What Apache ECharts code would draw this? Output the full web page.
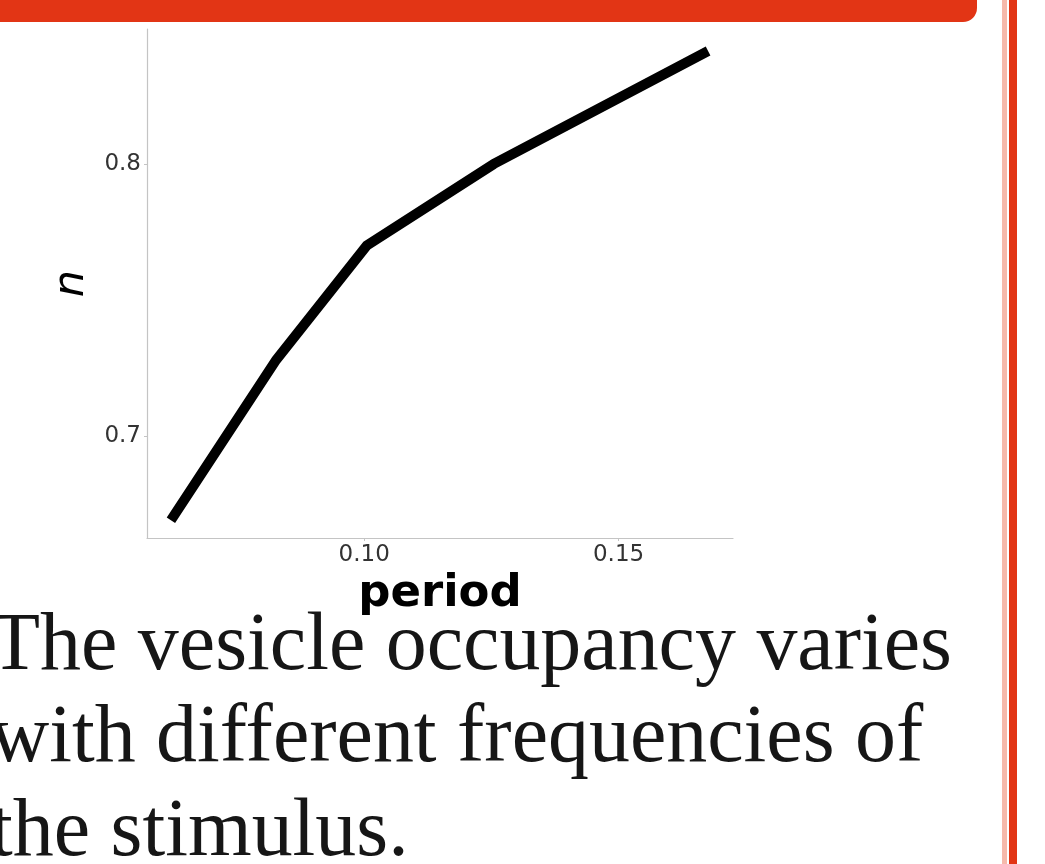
<!DOCTYPE html>
<html>
<head>
<meta charset="utf-8">
<script src="https://cdn.jsdelivr.net/npm/echarts@6/dist/echarts.min.js"></script>
<style>
  html, body { margin: 0; padding: 0; background: #ffffff; }
  #chart { width: 1045px; height: 864px; }
</style>
</head>
<body>
<div id="chart"></div>
<script>
// ---- data ----
const periods = [0.062, 0.0827, 0.1005, 0.1255, 0.1676];
const occupancy = [0.669, 0.728, 0.770, 0.800, 0.8415];
const xTickValues = [0.10, 0.15];
const yTickValues = [0.7, 0.8];
const xAxisTitle = 'period';
const yAxisTitle = 'n';
const captionLines = [
  'The vesicle occupancy varies',
  'with different frequencies of',
  'the stimulus.'
];

// ---- layout helpers ----
const captionFontSize = 82;
const captionFamily = '"Liberation Serif"';
const captionLeft = -10;
const captionRight = 952;
const mctx = document.createElement('canvas').getContext('2d');
mctx.font = captionFontSize + 'px ' + captionFamily;
const w0 = mctx.measureText(captionLines[0]).width;
const capScale = (captionRight - captionLeft) / w0;
const captionTops = [606, 698, 792];

const chart = echarts.init(document.getElementById('chart'), null, { renderer: 'canvas' });

const graphics = [
  { type: 'rect', shape: { x: -20, y: -20, width: 997, height: 42, r: [0, 0, 14, 0] },
    style: { fill: '#e23515' }, z: 10 },
  { type: 'rect', shape: { x: 1002, y: 0, width: 5, height: 864 },
    style: { fill: '#f6b9ab' }, z: 10 },
  { type: 'rect', shape: { x: 1009, y: 0, width: 8, height: 864 },
    style: { fill: '#e23515' }, z: 10 }
];
captionLines.forEach((t, i) => {
  graphics.push({
    type: 'text', x: captionLeft, y: captionTops[i], scaleX: capScale, z: 10,
    style: { text: t, font: captionFontSize + 'px ' + captionFamily, fill: '#161616', verticalAlign: 'top' }
  });
});

chart.setOption({
  animation: false,
  backgroundColor: '#ffffff',
  grid: { left: 147, right: 312, top: 29, bottom: 326, containLabel: false },
  xAxis: {
    type: 'value', min: 0.0573, max: 0.1725,
    name: xAxisTitle, nameLocation: 'middle', nameGap: 30,
    nameTextStyle: { fontFamily: 'DejaVu Sans', fontWeight: 'bold', fontSize: 45, color: '#000' },
    axisLine: { show: true, lineStyle: { color: '#c4c4c4', width: 1.2 } },
    axisTick: { show: true, customValues: xTickValues, length: 3, lineStyle: { color: '#c4c4c4' } },
    axisLabel: { customValues: xTickValues, formatter: v => v.toFixed(2), margin: 6,
      fontFamily: 'DejaVu Sans', fontSize: 23, color: '#333' },
    splitLine: { show: false }
  },
  yAxis: {
    type: 'value', min: 0.6625, max: 0.8496,
    name: yAxisTitle, nameLocation: 'middle', nameGap: 49, nameRotate: 90,
    nameTextStyle: { fontFamily: 'DejaVu Sans', fontStyle: 'italic', fontSize: 43, color: '#000' },
    axisLine: { show: true, lineStyle: { color: '#c4c4c4', width: 1.2 } },
    axisTick: { show: true, customValues: yTickValues, length: 3, lineStyle: { color: '#c4c4c4' } },
    axisLabel: { customValues: yTickValues, formatter: v => v.toFixed(1), margin: 6,
      fontFamily: 'DejaVu Sans', fontSize: 23, color: '#333' },
    splitLine: { show: false }
  },
  series: [{
    type: 'line',
    data: periods.map((p, i) => [p, occupancy[i]]),
    showSymbol: false, symbol: 'none',
    lineStyle: { color: '#000', width: 10, cap: 'butt', join: 'miter' },
    clip: false
  }],
  graphic: graphics
});
</script>
</body>
</html>
